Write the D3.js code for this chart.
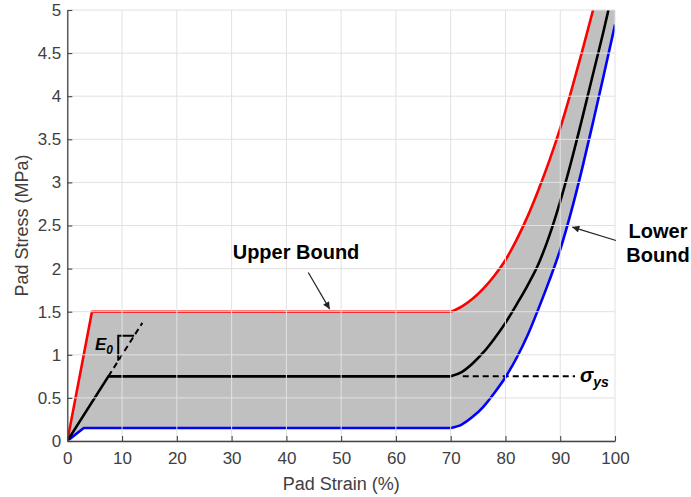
<!DOCTYPE html>
<html>
<head>
<meta charset="utf-8">
<script src="https://cdn.jsdelivr.net/npm/d3@7"></script>
<style>
  html, body { margin: 0; padding: 0; background: #fff; }
  svg { display: block; font-family: Arial, "Liberation Sans", Helvetica, sans-serif; }
</style>
</head>
<body>
<div id="chart"></div>
<script>
// stress-strain envelope for the pad: nominal curve with upper / lower bounds
const nominalStrain = [0, 7.5, 70, 72, 74, 76, 78, 80, 82, 84, 86, 88, 90, 92, 94, 96, 98, 98.8];
const nominalStress = [0, 0.75, 0.75, 0.8, 0.9, 1.03, 1.19, 1.37, 1.58, 1.8, 2.05, 2.38, 2.78, 3.24, 3.74, 4.26, 4.78, 5.0];

const upperStrain = [0, 4.5, 70, 72, 74, 76, 78, 80, 82, 84, 86, 88, 90, 92, 94, 96];
const upperStress = [0, 1.5, 1.5, 1.56, 1.65, 1.77, 1.92, 2.1, 2.33, 2.6, 2.91, 3.25, 3.63, 4.06, 4.52, 5.0];

const lowerStrain = [0, 3.0, 70, 72, 74, 76, 78, 80, 82, 84, 86, 88, 90, 92, 94, 96, 98, 100];
const lowerStress = [0, 0.15, 0.15, 0.19, 0.28, 0.4, 0.56, 0.74, 0.96, 1.22, 1.53, 1.86, 2.22, 2.66, 3.16, 3.7, 4.26, 4.83];

const xTicks = [0, 10, 20, 30, 40, 50, 60, 70, 80, 90, 100];
const yTicks = [0, 0.5, 1, 1.5, 2, 2.5, 3, 3.5, 4, 4.5, 5];

const yieldStress = 0.75;      // sigma_ys level
const initialModulus = 0.1;    // E0 slope, MPa per % strain
const plateauEnd = 70;

const width = 691, height = 497;
const margin = { top: 10, right: 76, bottom: 56, left: 67.3 };

const svg = d3.select("#chart").append("svg")
  .attr("width", width)
  .attr("height", height);

svg.append("rect").attr("width", width).attr("height", height).attr("fill", "#fff");

const x = d3.scaleLinear().domain([0, 100]).range([margin.left, width - margin.right]);
const y = d3.scaleLinear().domain([0, 5]).range([height - margin.bottom, margin.top]);

const zip = (xs, ys) => xs.map((v, i) => [v, ys[i]]);
const nominal = zip(nominalStrain, nominalStress);
const upper = zip(upperStrain, upperStress);
const lower = zip(lowerStrain, lowerStress);

// linear up to the end of the plateau, smooth densification after it
const linePart = d3.line().x(d => x(d[0])).y(d => y(d[1]));
const curvePart = d3.line().x(d => x(d[0])).y(d => y(d[1])).curve(d3.curveMonotoneX);
function curvePath(pts) {
  const a = pts.filter(d => d[0] <= plateauEnd);
  const b = pts.filter(d => d[0] >= plateauEnd);
  return linePart(a) + "L" + curvePart(b).slice(1);
}

svg.append("clipPath").attr("id", "plot-clip")
  .append("rect")
  .attr("x", x(0)).attr("y", y(5))
  .attr("width", x(100) - x(0)).attr("height", y(0) - y(5));

const plot = svg.append("g").attr("clip-path", "url(#plot-clip)");

// band: area under the upper bound, then blank out the area under the lower bound
plot.append("path")
  .attr("d", curvePath(upper) + `L${x(100)},${y(5)}L${x(100)},${y(0)}Z`)
  .attr("fill", "#c0c0c0");
plot.append("path")
  .attr("d", curvePath(lower) + `L${x(100)},${y(0)}Z`)
  .attr("fill", "#fff");

// grid
const grid = svg.append("g").attr("stroke", "#e1e1e1").attr("stroke-width", 1);
grid.selectAll("line.gx").data(xTicks).join("line")
  .attr("class", "gx")
  .attr("x1", d => x(d)).attr("x2", d => x(d))
  .attr("y1", y(0)).attr("y2", y(5));
grid.selectAll("line.gy").data(yTicks).join("line")
  .attr("class", "gy")
  .attr("x1", x(0)).attr("x2", x(100))
  .attr("y1", d => y(d)).attr("y2", d => y(d));

// dashed helpers: initial modulus and yield level
const e0Start = yieldStress / initialModulus;
const e0End = 13.7;
plot.append("line")
  .attr("x1", x(e0Start)).attr("y1", y(yieldStress))
  .attr("x2", x(e0End)).attr("y2", y(initialModulus * e0End))
  .attr("stroke", "#000").attr("stroke-width", 2).attr("stroke-dasharray", "6,4");

plot.append("line")
  .attr("x1", x(72.2)).attr("x2", x(92.7))
  .attr("y1", y(yieldStress)).attr("y2", y(yieldStress))
  .attr("stroke", "#000").attr("stroke-width", 2).attr("stroke-dasharray", "6,4");

// slope triangle on the E0 line
const triX = 9.3, triY = 1.22;
plot.append("path")
  .attr("d", `M${x(triX)},${y(initialModulus * triX)}L${x(triX)},${y(triY)}L${x(triY / initialModulus)},${y(triY)}`)
  .attr("fill", "none").attr("stroke", "#000").attr("stroke-width", 2);

// curves
[[upper, "#ff0000"], [lower, "#0000ff"], [nominal, "#000000"]].forEach(([pts, c]) => {
  plot.append("path")
    .attr("d", curvePath(pts))
    .attr("fill", "none")
    .attr("stroke", c)
    .attr("stroke-width", 2.6)
    .attr("stroke-linejoin", "round");
});

// axes (ticks point inward, no box)
const axisColor = "#454545";
const xAxis = svg.append("g")
  .attr("transform", `translate(0,${y(0)})`)
  .call(d3.axisBottom(x).tickValues(xTicks).tickSizeInner(-5).tickSizeOuter(0).tickPadding(11));
const yAxis = svg.append("g")
  .attr("transform", `translate(${x(0)},0)`)
  .call(d3.axisLeft(y).tickValues(yTicks).tickSizeInner(-5).tickSizeOuter(0).tickPadding(6)
    .tickFormat(d3.format("~g")));

[xAxis, yAxis].forEach(ax => {
  ax.select(".domain").attr("stroke", axisColor).attr("stroke-width", 1.3);
  ax.selectAll(".tick line").attr("stroke", axisColor).attr("stroke-width", 1.1);
  ax.selectAll(".tick text")
    .attr("fill", "#404040")
    .style("font-size", "17px")
    .style("font-family", "Arial, 'Liberation Sans', sans-serif");
});

svg.append("text")
  .attr("x", (x(0) + x(100)) / 2).attr("y", 490)
  .attr("text-anchor", "middle")
  .attr("fill", "#404040")
  .style("font-size", "18px")
  .text("Pad Strain (%)");

svg.append("text")
  .attr("transform", `translate(28,${(y(0) + y(5)) / 2}) rotate(-90)`)
  .attr("text-anchor", "middle")
  .attr("fill", "#404040")
  .style("font-size", "18px")
  .text("Pad Stress (MPa)");

// annotations
svg.append("defs").append("marker")
  .attr("id", "arrow")
  .attr("viewBox", "0 0 10 10")
  .attr("refX", 10).attr("refY", 5)
  .attr("markerWidth", 8).attr("markerHeight", 7)
  .attr("markerUnits", "userSpaceOnUse")
  .attr("orient", "auto")
  .append("path").attr("d", "M0,0L10,5L0,10Z").attr("fill", "#222");

const note = svg.append("g")
  .style("font-weight", "bold")
  .style("font-size", "20px")
  .attr("fill", "#000");

note.append("text")
  .attr("x", x(41.76)).attr("y", y(2.108))
  .attr("text-anchor", "middle")
  .text("Upper Bound");
svg.append("line")
  .attr("x1", x(44.0)).attr("y1", y(1.955))
  .attr("x2", x(47.9)).attr("y2", y(1.53))
  .attr("stroke", "#222").attr("stroke-width", 1.2)
  .attr("marker-end", "url(#arrow)");

const lowerLabel = note.append("text").attr("text-anchor", "middle");
lowerLabel.append("tspan").attr("x", 658).attr("y", 237.5).text("Lower");
lowerLabel.append("tspan").attr("x", 658).attr("y", 262).text("Bound");
svg.append("line")
  .attr("x1", x(100.18)).attr("y1", y(2.326))
  .attr("x2", x(92.2)).attr("y2", y(2.482))
  .attr("stroke", "#222").attr("stroke-width", 1.2)
  .attr("marker-end", "url(#arrow)");

const e0 = svg.append("text")
  .attr("x", x(5.05)).attr("y", y(1.057))
  .style("font-weight", "bold").style("font-style", "italic")
  .style("font-size", "17px");
e0.append("tspan").text("E");
e0.append("tspan").attr("dy", 4).style("font-size", "12px").text("0");

const sig = svg.append("text")
  .attr("x", x(93.6)).attr("y", y(0.685))
  .style("font-weight", "bold").style("font-style", "italic")
  .style("font-size", "20px");
sig.append("tspan").text("σ");
sig.append("tspan").attr("dy", 5).style("font-size", "14px").text("ys");
</script>
</body>
</html>
